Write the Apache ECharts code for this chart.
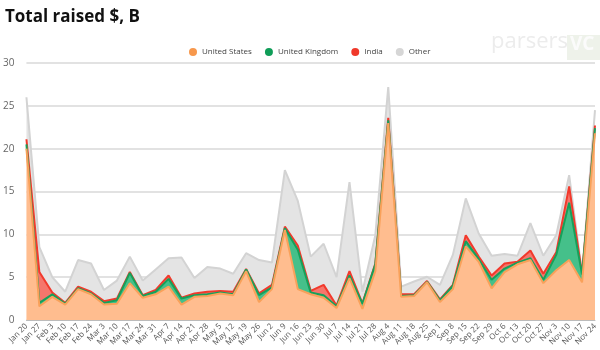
<!DOCTYPE html>
<html><head><meta charset="utf-8">
<script src="https://cdn.jsdelivr.net/npm/echarts@6/dist/echarts.min.js"></script>
<style>html,body{margin:0;padding:0;background:#fff}#c{width:600px;height:350px}</style>
</head><body><div id="c"></div>
<script>
const categories = ["Jan 20","Jan 27","Feb 3","Feb 10","Feb 17","Feb 24","Mar 3","Mar 10","Mar 17","Mar 24","Mar 31","Apr 7","Apr 14","Apr 21","Apr 28","May 5","May 12","May 19","May 26","Jun 2","Jun 9","Jun 16","Jun 23","Jun 30","Jul 7","Jul 14","Jul 21","Jul 28","Aug 4","Aug 11","Aug 18","Aug 25","Sep 1","Sep 8","Sep 15","Sep 22","Sep 29","Oct 6","Oct 13","Oct 20","Oct 27","Nov 3","Nov 10","Nov 17","Nov 24"];
const unitedStates = [20.0,1.6,2.7,1.8,3.6,3.0,1.8,1.9,4.3,2.6,3.0,3.9,1.8,2.7,2.8,3.1,2.9,5.7,2.1,3.6,10.5,3.6,3.0,2.6,1.4,4.9,1.3,5.7,23.0,2.7,2.8,4.4,2.1,3.6,8.6,6.8,3.7,5.6,6.5,7.0,4.3,5.8,7.0,4.4,21.8];
const unitedKingdom = [0.5,0.4,0.3,0.1,0.1,0.1,0.2,0.4,1.2,0.2,0.3,0.9,0.7,0.2,0.2,0.1,0.1,0.2,0.8,0.2,0.2,4.6,0.2,0.3,0.2,0.3,0.6,0.8,0.3,0.1,0.1,0.05,0.2,0.4,0.6,0.3,1.0,0.4,0.2,0.2,0.4,1.8,6.7,0.9,0.6];
const india = [0.6,3.6,0.2,0.1,0.2,0.2,0.2,0.2,0.1,0.1,0.2,0.4,0.1,0.2,0.3,0.2,0.3,0.05,0.2,0.3,0.2,0.5,0.2,1.2,0.1,0.5,0.05,0.1,0.3,0.2,0.1,0.1,0.1,0.1,0.7,0.3,0.5,0.6,0.1,0.9,0.7,0.3,1.9,0.05,0.3];
const other = [4.9,2.9,1.8,1.3,3.1,3.3,1.3,2.1,1.8,1.7,2.4,2.0,4.7,1.8,2.9,2.6,2.1,1.85,3.9,2.6,6.6,5.2,4.0,4.8,3.3,10.4,1.35,3.3,3.6,0.9,1.5,0.5,1.7,3.5,4.3,2.7,2.3,1.1,0.7,3.2,2.1,2.0,1.3,0.1,1.8];
const yTicks = [0,5,10,15,20,25,30];

const chart = echarts.init(document.getElementById('c'), null, {renderer:'canvas'});
function mk(name, data, line, area, z){
  return {name, type:'line', stack:'total', data, symbol:'none', smooth:false, z,
    lineStyle:{color:line, width:2}, itemStyle:{color:line},
    areaStyle:{color:area, opacity:1}};
}
chart.setOption({
  animation:false,
  title:{text:'Total raised $, B', left:0, top:4, textStyle:{fontFamily:'Open Sans', fontWeight:'bold', fontSize:17, color:'#111'}},
  graphic:[
    {type:'text', left:491, top:31, style:{text:'parsers', fontFamily:'Open Sans', fontSize:22, fill:'#ececec'}},
    {type:'rect', left:567, top:35, shape:{width:33, height:25}, style:{fill:'#eef2ea'}},
    {type:'text', left:570, top:35, style:{text:'VC', fontFamily:'Open Sans', fontWeight:'bold', fontSize:19, fill:'#fbfbfb'}}
  ],
  legend:{top:43, left:184, itemWidth:8, itemHeight:8, itemGap:13, icon:'circle',
    textStyle:{fontFamily:'Open Sans', fontSize:8, color:'#444'},
    data:[{name:'United States', itemStyle:{color:'#f7984c'}},{name:'United Kingdom', itemStyle:{color:'#0f9d58'}},{name:'India', itemStyle:{color:'#f0392b'}},{name:'Other', itemStyle:{color:'#d6d6d6'}}]},
  grid:{left:26, right:5, top:63, bottom:30, containLabel:false},
  xAxis:{type:'category', data:categories, boundaryGap:false,
    axisLine:{lineStyle:{color:'#bbb'}}, axisTick:{show:false},
    axisLabel:{interval:0, rotate:45, fontFamily:'Open Sans', fontSize:8, color:'#555', margin:5}},
  yAxis:{type:'value', min:0, max:30, interval:5,
    axisLabel:{fontFamily:'Open Sans', fontSize:10, color:'#666', margin:12},
    splitLine:{lineStyle:{color:'#d8d8d8', width:1.5}}, axisLine:{show:false}, axisTick:{show:false}},
  series:[
    mk('United States', unitedStates, '#f9a15a', '#ffbd8f', 4),
    mk('United Kingdom', unitedKingdom, '#16a05a', '#45c08a', 3),
    mk('India', india, '#f2392c', '#f5766c', 2),
    mk('Other', other, '#d3d3d3', '#e4e4e4', 1)
  ]
});
</script></body></html>
